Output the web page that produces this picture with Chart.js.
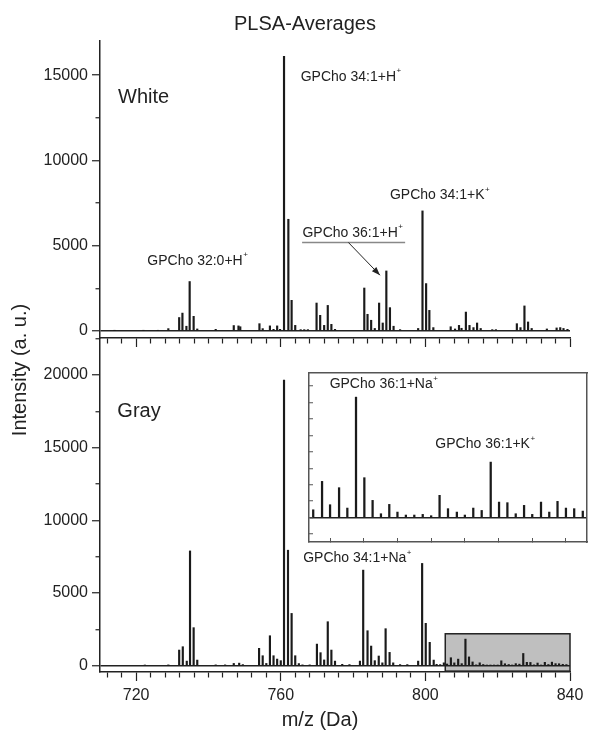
<!DOCTYPE html>
<html>
<head>
<meta charset="utf-8">
<title>PLSA-Averages</title>
<script src="https://cdn.jsdelivr.net/npm/chart.js@4.4.1/dist/chart.umd.min.js"></script>
<style>
  html, body { margin: 0; padding: 0; background: #fff; }
  #wrap { position: relative; width: 589px; height: 738px; overflow: hidden; }
  #wrap canvas { position: absolute; left: 0; top: 0; }
</style>
</head>
<body>
<div id="wrap">
  <canvas id="white" width="589" height="738"></canvas>
  <canvas id="gray" width="589" height="738"></canvas>
  <canvas id="inset" width="589" height="738"></canvas>
</div>
<script>
// peaks (m/z, intensity)
const whiteMz = [714, 722, 726, 728.9, 731.9, 732.8, 733.9, 734.8, 735.9, 736.9, 742, 747, 748.3, 748.8,
  754.1, 755, 757, 758, 759, 759.8, 760.9, 762.1, 763, 764, 765.5, 766.5, 767.5, 769.9, 770.9, 772, 773, 774, 775,
  783.1, 784, 785, 786, 787.2, 788.2, 789.2, 790.2, 791.2, 793, 798, 799.2, 800.2, 801.1, 802.2,
  807, 808.2, 809.3, 810, 811.2, 812.2, 813.3, 814.3, 815.3, 818.5, 819.5, 825.3, 826.3, 827.4, 828.4, 829.4,
  833.6, 836.3, 837.3, 838.2, 839.3];
const whiteIntensity = [30, 40, 40, 140, 790, 1050, 280, 2900, 860, 120, 100, 320, 300, 250,
  430, 140, 300, 100, 300, 100, 16100, 6550, 1800, 330, 80, 80, 80, 1640, 920, 330, 1500, 390, 100,
  2520, 980, 630, 150, 1640, 470, 3520, 1370, 280, 80, 150, 7040, 2780, 1210, 200,
  250, 120, 330, 160, 1110, 330, 200, 470, 150, 80, 80, 430, 200, 1470, 530, 150,
  120, 180, 200, 150, 100];

const grayMz = [722.4, 728.9, 731.9, 732.9, 734, 734.9, 735.9, 736.9, 742, 744.6, 747, 748.5, 749.5,
  754, 755, 756, 757, 758, 759, 760, 760.9, 762, 763, 764, 765, 766, 768, 770, 771, 772, 773, 774, 775, 777, 779,
  781.9, 782.8, 784, 785, 786, 787.1, 788.1, 789, 790.1, 791.1, 793, 795, 798, 799.1, 800.1, 801.2, 802.3, 803.1,
  804.1, 805.1, 806, 807.05, 808, 809.07, 810.05, 811.08, 812.07, 813.05, 814.04, 815.03, 816, 817, 818, 819, 820,
  821, 822, 823.05, 824, 825, 826, 827.07, 828.06, 829.05, 830.04, 831.03, 832, 833.04, 834.02, 835, 836, 836.98,
  838, 839];
const grayIntensity = [50, 60, 1080, 1310, 320, 7900, 2620, 390, 60, 60, 160, 180, 80,
  1200, 690, 160, 2065, 690, 460, 350, 19650, 7950, 3600, 690, 150, 60, 60, 1490, 900, 400, 3030, 1080, 320, 100, 80,
  320, 6580, 2410, 1355, 350, 670, 200, 2550, 920, 200, 80, 80, 320, 7040, 2920, 1610, 390, 100,
  80, 200, 120, 552, 197, 456, 146, 1833, 608, 263, 60, 202, 85, 40, 40, 50, 30,
  340, 137, 85, 40, 146, 110, 845, 237, 228, 60, 187, 50, 237, 85, 248, 146, 137,
  100, 80];

const xLabels = [720, 760, 800, 840];
const whiteYLabels = [0, 5000, 10000, 15000];
const grayYLabels = [0, 5000, 10000, 15000, 20000];
// region shown magnified in the inset
const zoomMz = [805.5, 838.5];
const zoomIntensity = [-370, 2200];

const FONT = '"Liberation Sans", Arial, sans-serif';
const INK = '#222';
Chart.defaults.font.family = FONT;
Chart.defaults.color = INK;

const toPoints = (mz, inten) => mz.map((m, i) => ({x: m, y: inten[i]}));

// tick marks every `step` inside [min, max]
function stepTicks(step) {
  return s => {
    const ticks = [];
    for (let v = Math.ceil(s.min / step) * step; v <= s.max; v += step) {
      ticks.push({value: v});
    }
    s.ticks = ticks;
  };
}

// ion label with a small raised "+"
function ionLabel(ctx, text, x, y, size) {
  ctx.font = size + 'px ' + FONT;
  ctx.textAlign = 'left';
  ctx.textBaseline = 'middle';
  ctx.fillText(text, x, y);
  const w = ctx.measureText(text).width;
  ctx.font = Math.round(size * 0.6) + 'px ' + FONT;
  ctx.fillText('+', x + w + 0.5, y - size * 0.42);
}

function spectrum(mz, inten, thick) {
  return {
    data: toPoints(mz, inten),
    backgroundColor: '#1a1a1a',
    borderWidth: 0,
    barThickness: thick,
    grouped: false
  };
}

function panelOptions(yMin, yMax, yLabels, top, bottom, xHeight, showX) {
  return {
    responsive: false,
    animation: false,
    devicePixelRatio: 1,
    layout: { padding: { left: 0, right: 19, top: top, bottom: 738 - bottom - xHeight } },
    plugins: { legend: { display: false }, tooltip: { enabled: false } },
    scales: {
      x: {
        type: 'linear', min: 710, max: 840, offset: false,
        afterBuildTicks: stepTicks(4),
        afterFit: s => { s.height = xHeight; },
        grid: {
          drawOnChartArea: false, offset: false, tickLength: 9, tickColor: INK, tickWidth: 1.2,
          tickBorderDash: c => xLabels.includes(c.tick.value) ? [] : [5, 100]
        },
        border: { color: INK, width: 1.5 },
        ticks: {
          autoSkip: false, maxRotation: 0,
          display: showX, padding: 5, font: { size: 16 }, color: INK,
          callback: v => xLabels.includes(v) ? String(v) : ''
        }
      },
      y: {
        min: yMin, max: yMax,
        afterBuildTicks: stepTicks(2500),
        afterFit: s => { s.width = 100; },
        grid: {
          color: c => c.tick.value === 0 ? INK : 'rgba(0,0,0,0)', lineWidth: 1.5,
          tickLength: 8, tickColor: INK, tickWidth: 1.2,
          tickBorderDash: c => yLabels.includes(c.tick.value) ? [] : [3.5, 3.5],
          tickBorderDashOffset: c => yLabels.includes(c.tick.value) ? 0 : 3.5
        },
        border: { color: INK, width: 1.5 },
        ticks: {
          autoSkip: false, padding: 4, font: { size: 16 }, color: INK,
          callback: v => yLabels.includes(v) ? String(v) : ''
        }
      }
    }
  };
}

const whiteText = {
  id: 'whiteText',
  afterDraw(chart) {
    const {ctx, scales: {x, y}} = chart;
    ctx.save();
    ctx.fillStyle = INK;
    ctx.textAlign = 'center';
    ctx.textBaseline = 'middle';
    ctx.font = '20px ' + FONT;
    ctx.fillText('PLSA-Averages', 305, 24);

    ctx.save();
    ctx.translate(20, 370);
    ctx.rotate(-Math.PI / 2);
    ctx.fillText('Intensity (a. u.)', 0, 0);
    ctx.restore();

    ctx.textAlign = 'left';
    ctx.font = '20px ' + FONT;
    ctx.fillText('White', x.getPixelForValue(715), y.getPixelForValue(13700));

    ionLabel(ctx, 'GPCho 34:1+H', x.getPixelForValue(765.5), y.getPixelForValue(14880), 14);
    ionLabel(ctx, 'GPCho 32:0+H', x.getPixelForValue(723.1), y.getPixelForValue(4100), 14);
    ionLabel(ctx, 'GPCho 34:1+K', x.getPixelForValue(790.2), y.getPixelForValue(7960), 14);
    ionLabel(ctx, 'GPCho 36:1+H', x.getPixelForValue(766), y.getPixelForValue(5750), 14);

    // underline and arrow to the 36:1 peak
    const uy = y.getPixelForValue(5190);
    ctx.strokeStyle = '#888';
    ctx.lineWidth = 1.5;
    ctx.beginPath();
    ctx.moveTo(x.getPixelForValue(765.9), uy);
    ctx.lineTo(x.getPixelForValue(794.4), uy);
    ctx.stroke();

    const ax0 = x.getPixelForValue(778.7), ay0 = uy;
    const ax1 = x.getPixelForValue(787.45), ay1 = y.getPixelForValue(3270);
    ctx.strokeStyle = INK;
    ctx.lineWidth = 1;
    ctx.beginPath();
    ctx.moveTo(ax0, ay0);
    ctx.lineTo(ax1, ay1);
    ctx.stroke();
    const ang = Math.atan2(ay1 - ay0, ax1 - ax0);
    ctx.beginPath();
    ctx.moveTo(ax1, ay1);
    ctx.lineTo(ax1 - 9 * Math.cos(ang - 0.35), ay1 - 9 * Math.sin(ang - 0.35));
    ctx.lineTo(ax1 - 9 * Math.cos(ang + 0.35), ay1 - 9 * Math.sin(ang + 0.35));
    ctx.closePath();
    ctx.fill();
    ctx.restore();
  }
};

const grayText = {
  id: 'grayText',
  beforeDraw(chart) {
    // shaded box marking the zoomed region
    const {ctx, chartArea, scales: {x, y}} = chart;
    const x0 = x.getPixelForValue(zoomMz[0]);
    const y0 = y.getPixelForValue(zoomIntensity[1]);
    const y1 = y.getPixelForValue(zoomIntensity[0]);
    ctx.save();
    ctx.fillStyle = '#bfbfbf';
    ctx.fillRect(x0, y0, chartArea.right - x0, y1 - y0);
    ctx.strokeStyle = INK;
    ctx.lineWidth = 1.5;
    ctx.strokeRect(x0, y0, chartArea.right - x0, y1 - y0);
    ctx.restore();
  },
  afterDraw(chart) {
    const {ctx, scales: {x, y}} = chart;
    ctx.save();
    ctx.fillStyle = INK;
    ctx.textAlign = 'center';
    ctx.textBaseline = 'middle';
    ctx.font = '20px ' + FONT;
    ctx.fillText('m/z (Da)', 320, 720);
    ctx.textAlign = 'left';
    ctx.font = '20px ' + FONT;
    ctx.fillText('Gray', x.getPixelForValue(714.8), y.getPixelForValue(17470));
    ionLabel(ctx, 'GPCho 34:1+Na', x.getPixelForValue(766.2), y.getPixelForValue(7390), 14);
    ctx.restore();
  }
};

const insetText = {
  id: 'insetText',
  beforeDraw(chart) {
    const {ctx, chartArea: a} = chart;
    ctx.save();
    ctx.fillStyle = '#fff';
    ctx.fillRect(a.left, a.top, a.right - a.left, a.bottom - a.top);
    ctx.restore();
  },
  afterDraw(chart) {
    const {ctx, scales: {x, y}} = chart;
    ctx.save();
    ctx.fillStyle = INK;
    ionLabel(ctx, 'GPCho 36:1+Na', x.getPixelForValue(807.95), y.getPixelForValue(2026), 14);
    ionLabel(ctx, 'GPCho 36:1+K', x.getPixelForValue(820.5), y.getPixelForValue(1114), 14);
    ctx.restore();
  }
};

new Chart(document.getElementById('white'), {
  type: 'bar',
  data: { datasets: [spectrum(whiteMz, whiteIntensity, 1.5)] },
  options: panelOptions(-410, 17000, whiteYLabels, 41, 338, 12, false),
  plugins: [whiteText]
});

new Chart(document.getElementById('gray'), {
  type: 'bar',
  data: { datasets: [spectrum(grayMz, grayIntensity, 1.5)] },
  options: panelOptions(-430, 22550, grayYLabels, 338, 672, 66, true),
  plugins: [grayText]
});

const frame = { color: '#555', width: 1.5 };
new Chart(document.getElementById('inset'), {
  type: 'bar',
  data: { datasets: [spectrum(grayMz, grayIntensity, 1.6)] },
  options: {
    responsive: false,
    animation: false,
    devicePixelRatio: 1,
    layout: { padding: { left: 309, right: 2, top: 373, bottom: 196 } },
    plugins: { legend: { display: false }, tooltip: { enabled: false } },
    scales: {
      x: {
        type: 'linear', min: zoomMz[0], max: zoomMz[1], offset: false,
        afterBuildTicks: stepTicks(4),
        afterFit: s => { s.height = 0; },
        grid: { drawOnChartArea: false, offset: false, tickLength: -4, tickColor: '#555', tickWidth: 1 },
        border: frame,
        ticks: { autoSkip: false, display: false }
      },
      y: {
        min: zoomIntensity[0], max: zoomIntensity[1],
        afterBuildTicks: stepTicks(250),
        afterFit: s => { s.width = 0; },
        grid: {
          color: c => c.tick.value === 0 ? INK : 'rgba(0,0,0,0)', lineWidth: 1.5,
          tickLength: -4, tickColor: '#555', tickWidth: 1
        },
        border: frame,
        ticks: { autoSkip: false, display: false }
      },
      xTop: {
        type: 'linear', position: 'top', afterFit: s => { s.height = 0; },
        grid: { display: false }, border: frame, ticks: { display: false }
      },
      yRight: {
        type: 'linear', position: 'right', afterFit: s => { s.width = 0; },
        grid: { display: false }, border: frame, ticks: { display: false }
      }
    }
  },
  plugins: [insetText]
});
</script>
</body>
</html>
